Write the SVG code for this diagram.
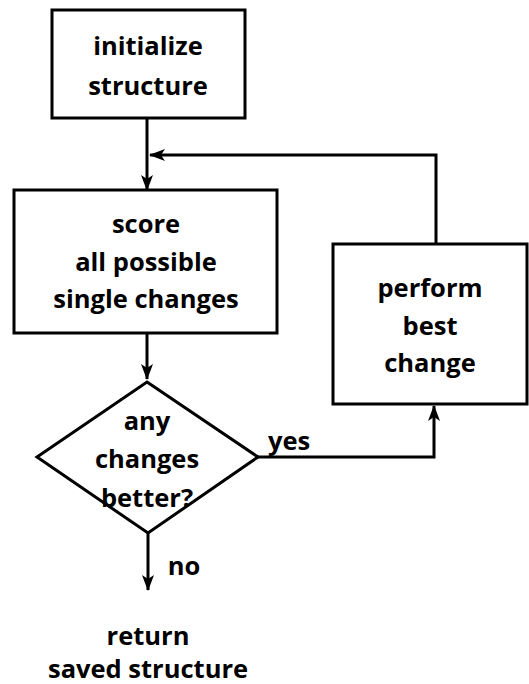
<svg xmlns="http://www.w3.org/2000/svg" width="529" height="684" viewBox="0 0 529 684">
<style>
.box{fill:#fff;stroke:#000;stroke-width:3}
.ln{fill:none;stroke:#000;stroke-width:3}
text{font-family:"Open Sans","Liberation Sans",sans-serif;font-weight:bold;font-size:25.5px;fill:#000;text-anchor:middle}
</style>
<defs>
<marker id="ah" viewBox="0 0 16 12" refX="15" refY="6" markerWidth="16" markerHeight="12" markerUnits="userSpaceOnUse" orient="auto">
<path d="M0,0 L16,6 L0,12 L4,6 z" fill="#000"/>
</marker>
</defs>
<g id="connectors">
<path class="ln" d="M147,118 V190" marker-end="url(#ah)"/>
<path class="ln" d="M436,244 V155 H150" marker-end="url(#ah)"/>
<path class="ln" d="M147,333 V379" marker-end="url(#ah)"/>
<path class="ln" d="M258,457 H434 V406" marker-end="url(#ah)"/>
<path class="ln" d="M148,533 V590" marker-end="url(#ah)"/>
</g>
<g id="init">
<rect class="box" x="52" y="10" width="193" height="108"/>
<text x="148" y="55">initialize</text>
<text x="148" y="95">structure</text>
</g>
<g id="score">
<rect class="box" x="14" y="190" width="263" height="143"/>
<text x="146" y="233">score</text>
<text x="146" y="271">all possible</text>
<text x="146" y="308">single changes</text>
</g>
<g id="perform">
<rect class="box" x="333" y="244" width="194" height="160"/>
<text x="430" y="297">perform</text>
<text x="430" y="335">best</text>
<text x="430" y="372">change</text>
</g>
<g id="decision">
<polygon class="box" points="147,382 258,457 148,533 37,457"/>
<text x="147" y="430">any</text>
<text x="147" y="468">changes</text>
<text x="147" y="507">better?</text>
</g>
<g id="labels">
<text x="289" y="450">yes</text>
<text x="184" y="575">no</text>
</g>
<g id="return">
<text x="148" y="645">return</text>
<text x="148" y="678">saved structure</text>
</g>
</svg>
